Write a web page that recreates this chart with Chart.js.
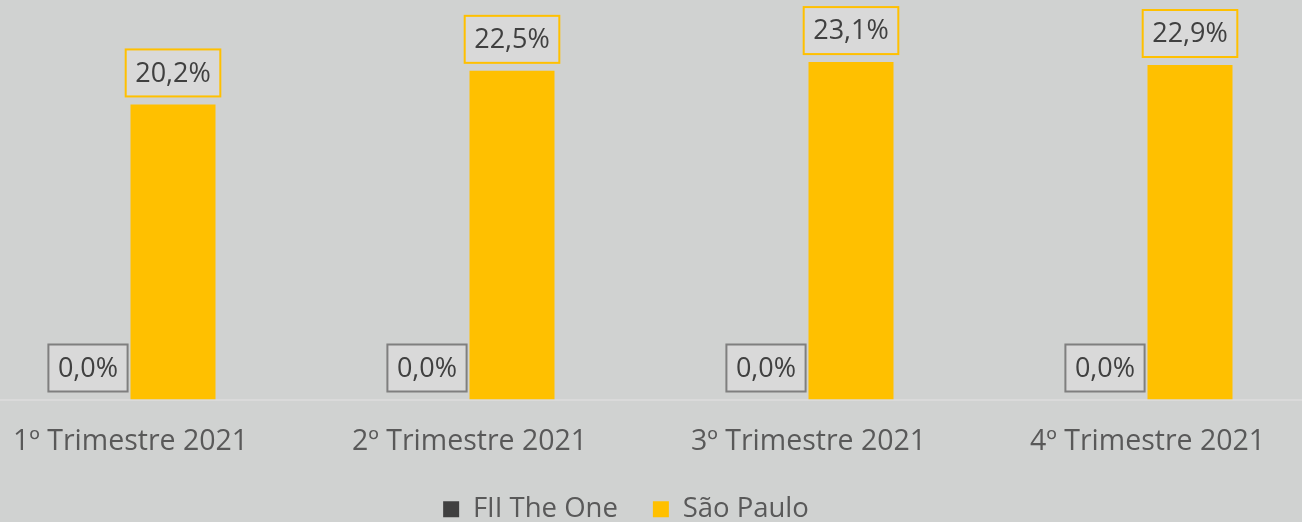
<!DOCTYPE html>
<html>
<head>
<meta charset="utf-8">
<script src="https://cdn.jsdelivr.net/npm/chart.js@4/dist/chart.umd.min.js"></script>
<style>
  html, body { margin: 0; padding: 0; background: #d0d2d1; overflow: hidden; }
  #wrap { position: relative; width: 1302px; height: 522px; }
</style>
</head>
<body>
<div id="wrap"><canvas id="chart"></canvas></div>
<script>
// chart data
const categories = ['1º Trimestre 2021', '2º Trimestre 2021', '3º Trimestre 2021', '4º Trimestre 2021'];
const fiiValues = [0, 0, 0, 0];
const spValues = [20.2, 22.5, 23.1, 22.9];
const seriesNames = ['FII The One', 'São Paulo'];

const fmt = v => v.toFixed(1).replace('.', ',') + '%';
const FONT = '"Open Sans", "DejaVu Sans", sans-serif';

// boxed value labels above each bar
const boxLabels = {
  id: 'boxLabels',
  afterDatasetsDraw(chart) {
    const ctx = chart.ctx;
    ctx.save();
    ctx.font = '27px ' + FONT;
    ctx.textAlign = 'center';
    ctx.textBaseline = 'middle';
    chart.data.datasets.forEach((ds, di) => {
      const meta = chart.getDatasetMeta(di);
      meta.data.forEach((bar, i) => {
        const text = fmt(ds.data[i].y);
        const w = ctx.measureText(text).width + 19;
        const h = 47;
        const x = bar.x - w / 2;
        const y = bar.y - 8 - h;
        ctx.fillStyle = '#d9d9d9';
        ctx.fillRect(x, y, w, h);
        ctx.lineWidth = 2;
        ctx.strokeStyle = ds.labelBorder;
        ctx.strokeRect(x, y, w, h);
        ctx.fillStyle = '#404040';
        ctx.fillText(text, bar.x, y + h / 2 + 1);
      });
    });
    ctx.restore();
  }
};

// nudge legend and let the x labels run past their short box
const layoutNudge = {
  id: 'layoutNudge',
  afterUpdate(chart) {
    const lg = chart.legend;
    lg.left -= 25; lg.right -= 25;
    lg.top += 11; lg.bottom += 11;
    chart.scales.x.bottom = chart.height;
  }
};

function draw() {
  new Chart(document.getElementById('chart'), {
    type: 'bar',
    data: {
      datasets: [
        {
          label: seriesNames[0],
          data: fiiValues.map((v, i) => ({ x: i, y: v })),
          backgroundColor: '#404040',
          labelBorder: '#7f7f7f'
        },
        {
          label: seriesNames[1],
          data: spValues.map((v, i) => ({ x: i, y: v })),
          backgroundColor: '#ffc000',
          labelBorder: '#ffc000'
        }
      ]
    },
    options: {
      responsive: true,
      maintainAspectRatio: false,
      animation: false,
      events: [],
      layout: { padding: 0 },
      datasets: { bar: { barPercentage: 1, categoryPercentage: 0.5015 } },
      scales: {
        x: {
          type: 'linear',
          offset: false,
          min: -0.38496,
          max: 3.45575,
          grid: { display: false, drawTicks: false, offset: false },
          border: { display: true, color: '#dadada', width: 2 },
          afterBuildTicks: s => { s.ticks = categories.map((c, i) => ({ value: i })); },
          afterFit: s => { s.height = 50; s.paddingLeft = 0; s.paddingRight = 0; },
          ticks: {
            autoSkip: false,
            maxRotation: 0,
            padding: 25,
            color: '#595959',
            font: { family: FONT, size: 28.5 },
            callback: v => categories[v]
          }
        },
        y: { display: false, min: 0, max: 27.35 }
      },
      plugins: {
        legend: {
          position: 'bottom',
          labels: {
            boxWidth: 16,
            boxHeight: 16,
            padding: 35,
            color: '#595959',
            font: { family: FONT, size: 27.5 }
          }
        },
        tooltip: { enabled: false }
      }
    },
    plugins: [boxLabels, layoutNudge]
  });
}

document.fonts.load('27px "Open Sans"').then(draw, draw);
</script>
</body>
</html>
